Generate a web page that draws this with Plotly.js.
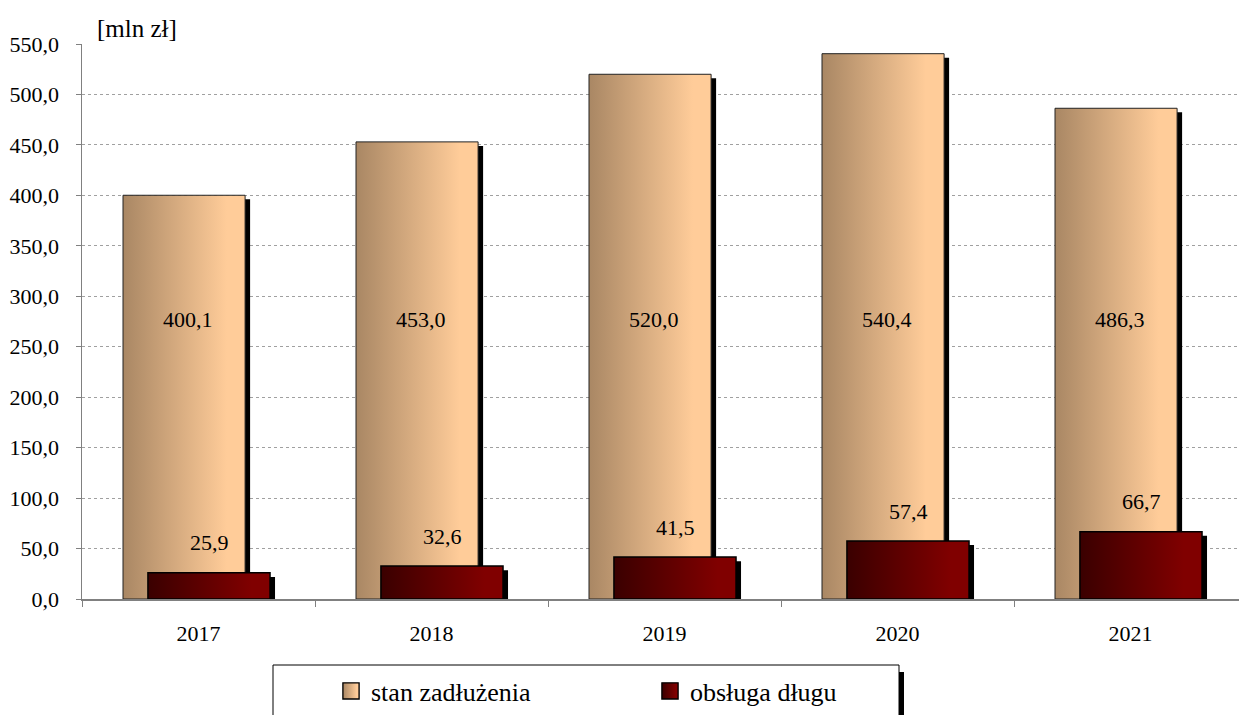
<!DOCTYPE html>
<html><head><meta charset="utf-8">
<script src="https://cdn.plot.ly/plotly-3.0.1.min.js"></script>
<style>html,body{margin:0;padding:0;background:#fff}#chart{width:1239px;height:715px}</style>
</head><body><div id="chart"></div>
<script>
// ---- data ----
const years = ['2017', '2018', '2019', '2020', '2021'];
const debtStock = [400.1, 453.0, 520.0, 540.4, 486.3];
const debtService = [25.9, 32.6, 41.5, 57.4, 66.7];
const seriesNames = ['stan zadłużenia', 'obsługa długu'];
const unitLabel = '[mln zł]';
const yTicks = [0, 50, 100, 150, 200, 250, 300, 350, 400, 450, 500, 550];

// ---- geometry (category units; 1 category = 233 px) ----
const PX = 1 / 233;
const tanOff = -0.324, redOff = -0.217, barW = 0.524;
const shX = 5 * PX, shY = 4; // shadow shift
const FONT = 'Liberation Serif, Times New Roman, serif';
const fmt = v => v.toFixed(1).replace('.', ',');

const data = [
  {type:'bar', x:years, y:debtStock.map(v=>v-shY), offset:tanOff+shX, width:barW,
   marker:{color:'#000', line:{width:0}}, showlegend:false, hoverinfo:'skip'},
  {type:'bar', name:seriesNames[0], x:years, y:debtStock, offset:tanOff, width:barW,
   marker:{color:'#E0B080', line:{color:'#222', width:1}}},
  {type:'bar', x:years, y:debtService.map(v=>v-shY), offset:redOff+shX, width:barW,
   marker:{color:'#000', line:{width:0}}, showlegend:false, hoverinfo:'skip'},
  {type:'bar', name:seriesNames[1], x:years, y:debtService, offset:redOff, width:barW,
   marker:{color:'#600000', line:{color:'#000', width:1.5}}}
];

const L = 82, T = 44, W = 1157, H = 555;
const px2x = p => (p - L) / W, px2y = p => (T + H - p) / H;

const annotations = [];
years.forEach((yr, i) => {
  annotations.push({x:i, y:277, xref:'x', yref:'y', text:fmt(debtStock[i]), showarrow:false,
    xshift:-10.5, font:{family:FONT, size:22, color:'#000'}});
  annotations.push({x:i, y:debtService[i], xref:'x', yref:'y', text:fmt(debtService[i]), showarrow:false,
    xshift:11, yshift:30, yanchor:'middle', font:{family:FONT, size:22, color:'#000'}});
});
annotations.push({x:px2x(95), y:px2y(28), xref:'paper', yref:'paper', xanchor:'left', yanchor:'middle',
  text:unitLabel, showarrow:false, font:{family:FONT, size:25, color:'#000'}});

const layout = {
  width:1239, height:715,
  margin:{l:L, r:0, t:T, b:715-T-H, autoexpand:false},
  paper_bgcolor:'#fff', plot_bgcolor:'#fff',
  separators:', ',
  barmode:'overlay',
  font:{family:FONT, size:22, color:'#000'},
  xaxis:{type:'category', range:[-0.5, 4.5 - 8*PX], showline:true, linecolor:'#808080', linewidth:1.5,
    ticks:'outside', tickson:'boundaries', ticklen:6, tickcolor:'#808080', showgrid:false,
    ticklabelstandoff:14, tickfont:{family:FONT, size:22, color:'#000'}, fixedrange:true},
  yaxis:{range:[0, 550], tickvals:yTicks, tickformat:'.1f', showline:true, linecolor:'#808080', linewidth:1.5,
    ticks:'outside', ticklen:5, tickcolor:'#808080', gridcolor:'#a0a0a0', griddash:'3px,3px', gridwidth:1,
    zeroline:false, ticklabelstandoff:12, tickfont:{family:FONT, size:22, color:'#000'}, fixedrange:true},
  showlegend:true,
  legend:{orientation:'h', x:px2x(331), xanchor:'left', y:px2y(691), yanchor:'middle',
    bgcolor:'rgba(0,0,0,0)', borderwidth:0, entrywidthmode:'pixels', entrywidth:274,
    font:{family:FONT, size:26, color:'#000'}, traceorder:'normal'},
  shapes:[
    {type:'rect', xref:'paper', yref:'paper', x0:px2x(273), x1:px2x(899), y0:px2y(665), y1:px2y(730),
      line:{color:'#000', width:1}, fillcolor:'rgba(0,0,0,0)', layer:'below'},
    {type:'rect', xref:'paper', yref:'paper', x0:px2x(899), x1:px2x(904), y0:px2y(672), y1:px2y(730),
      line:{width:0}, fillcolor:'#000', layer:'below'}
  ],
  annotations:annotations
};

Plotly.newPlot('chart', data, layout, {staticPlot:true, displayModeBar:false}).then(gd => {
  const ns = 'http://www.w3.org/2000/svg';
  const svg = gd.querySelector('.main-svg');
  let defs = svg.querySelector('defs');
  if (!defs) { defs = document.createElementNS(ns, 'defs'); svg.insertBefore(defs, svg.firstChild); }
  function grad(id, stops) {
    const g = document.createElementNS(ns, 'linearGradient');
    g.setAttribute('id', id); g.setAttribute('x1', '0'); g.setAttribute('y1', '0');
    g.setAttribute('x2', '1'); g.setAttribute('y2', '0');
    stops.forEach(([o, c]) => {
      const s = document.createElementNS(ns, 'stop');
      s.setAttribute('offset', o); s.setAttribute('stop-color', c); g.appendChild(s);
    });
    defs.appendChild(g);
  }
  grad('gTan', [[0, '#A98764'], [0.85, '#FFCC99'], [1, '#FFCC99']]);
  grad('gRed', [[0, '#3A0000'], [0.85, '#800000'], [1, '#800000']]);
  const traces = gd.querySelectorAll('.barlayer .trace');
  traces[1].querySelectorAll('path').forEach(p => p.style.fill = 'url(#gTan)');
  traces[3].querySelectorAll('path').forEach(p => p.style.fill = 'url(#gRed)');
  const leg = gd.querySelectorAll('.legend .traces');
  const styleLeg = (g, id) => g.querySelectorAll('.legendpoints path').forEach(p => {
    p.style.fill = 'url(#' + id + ')'; p.style.stroke = '#000'; p.style.strokeWidth = '1px';
    const t = p.getAttribute('transform') || '';
    p.setAttribute('transform', (t + ' scale(1.35)').trim());
  });
  if (leg[0]) styleLeg(leg[0], 'gTan');
  if (leg[1]) styleLeg(leg[1], 'gRed');
});
</script>
</body></html>
